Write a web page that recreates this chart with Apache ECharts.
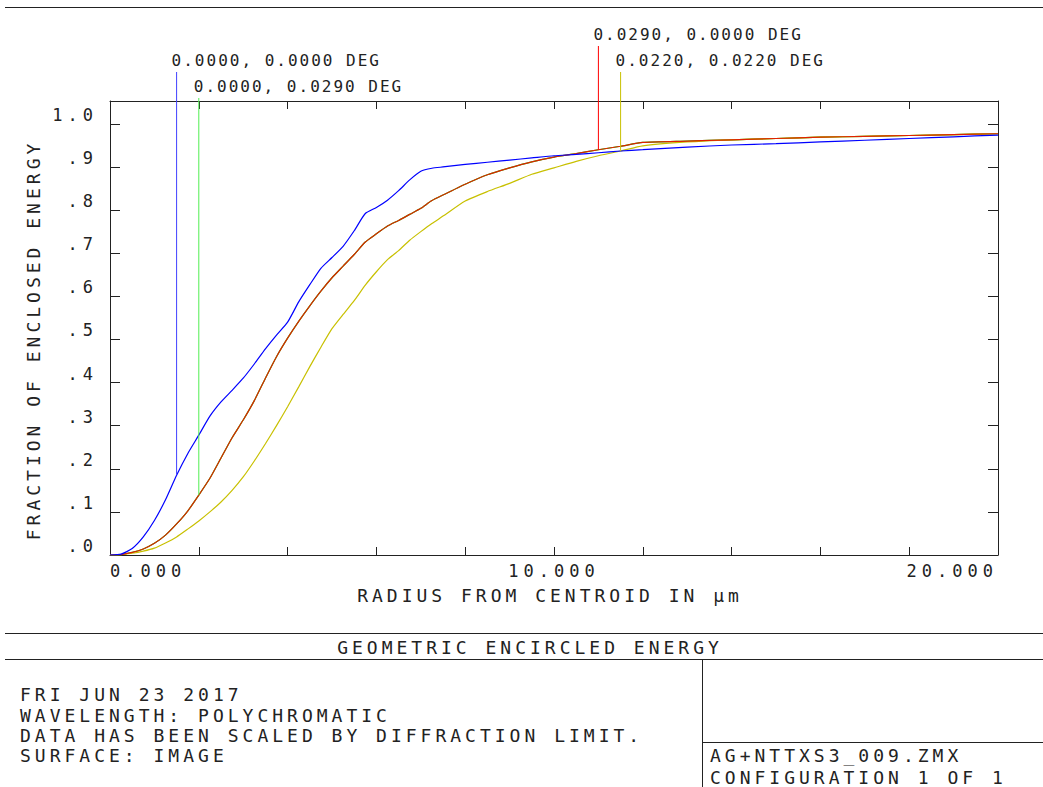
<!DOCTYPE html>
<html>
<head>
<meta charset="utf-8">
<title>Geometric Encircled Energy</title>
<script src="https://cdn.jsdelivr.net/npm/echarts@6.0.0/dist/echarts.min.js"></script>
<style>
  html, body { margin: 0; padding: 0; background: #fff; }
  #chart { width: 1043px; height: 787px; }
  /* the plot font is spread wide, svg text takes css letter-spacing */
  #chart text[style*="16px"] { letter-spacing: 2px; }
  #chart text[style*="17px"] { letter-spacing: 5px; }
  #chart text[style*="18px"] { letter-spacing: 4px; }
</style>
</head>
<body>
<div id="chart"></div>
<script>
// radius from centroid, micrometres
var radius = [0, 0.25, 0.5, 0.75, 1.0, 1.25, 1.5, 1.75, 2.0, 2.25, 2.5, 2.75, 3.0, 3.25, 3.5, 3.75,
  4.0, 4.25, 4.5, 4.75, 5.0, 5.25, 5.5, 5.75, 6.0, 6.25, 6.5, 6.75, 7.0, 7.25, 7.5, 8, 8.5, 9, 9.5,
  10, 10.5, 11, 11.5, 12, 13, 14, 15, 16, 17, 18, 19, 20];

// fraction of enclosed energy, one list per field
var blue = [0, 0.002, 0.015, 0.042, 0.08, 0.128, 0.185, 0.235, 0.278, 0.322, 0.355, 0.382, 0.41, 0.443, 0.478, 0.51,
  0.54, 0.587, 0.627, 0.665, 0.69, 0.716, 0.752, 0.792, 0.806, 0.823, 0.845, 0.87, 0.89, 0.897, 0.9, 0.906, 0.911, 0.916, 0.921,
  0.926, 0.929, 0.933, 0.937, 0.94, 0.946, 0.951, 0.954, 0.958, 0.962, 0.966, 0.97, 0.974];
var green = [0, 0.001, 0.006, 0.014, 0.027, 0.046, 0.072, 0.102, 0.139, 0.178, 0.225, 0.272, 0.313, 0.358, 0.41, 0.46,
  0.503, 0.542, 0.578, 0.612, 0.643, 0.67, 0.697, 0.726, 0.745, 0.763, 0.776, 0.79, 0.804, 0.822, 0.835, 0.86, 0.882, 0.898, 0.912,
  0.923, 0.931, 0.94, 0.948, 0.957, 0.96, 0.963, 0.966, 0.969, 0.971, 0.973, 0.975, 0.977];
var red = [0, 0.001, 0.006, 0.014, 0.027, 0.046, 0.072, 0.102, 0.139, 0.178, 0.225, 0.272, 0.313, 0.358, 0.41, 0.46,
  0.503, 0.542, 0.578, 0.612, 0.643, 0.67, 0.697, 0.726, 0.745, 0.763, 0.776, 0.79, 0.804, 0.822, 0.835, 0.86, 0.882, 0.898, 0.912,
  0.923, 0.931, 0.94, 0.948, 0.957, 0.96, 0.963, 0.966, 0.969, 0.971, 0.973, 0.975, 0.977];
var yellow = [0, 0.001, 0.004, 0.009, 0.016, 0.028, 0.042, 0.06, 0.079, 0.1, 0.123, 0.15, 0.181, 0.218, 0.258, 0.3,
  0.344, 0.39, 0.437, 0.482, 0.525, 0.558, 0.59, 0.626, 0.657, 0.685, 0.706, 0.73, 0.75, 0.769, 0.786, 0.821, 0.843, 0.862, 0.883,
  0.898, 0.913, 0.926, 0.937, 0.949, 0.958, 0.963, 0.966, 0.969, 0.971, 0.973, 0.975, 0.977];

var fieldNames = ['0.0000, 0.0000 DEG', '0.0000, 0.0290 DEG', '0.0290, 0.0000 DEG', '0.0220, 0.0220 DEG'];
// radius where each field's flag line meets its curve
var markerRadius = [1.5, 2.0, 11.0, 11.5];

var xTickLabels = ['0.000', '10.000', '20.000'];
var yTickLabels = ['.0', '.1', '.2', '.3', '.4', '.5', '.6', '.7', '.8', '.9', '1.0'];

var footerLeft = ['FRI JUN 23 2017', 'WAVELENGTH: POLYCHROMATIC', 'DATA HAS BEEN SCALED BY DIFFRACTION LIMIT.', 'SURFACE: IMAGE'];
var footerRight = ['AG+NTTXS3_009.ZMX', 'CONFIGURATION 1 OF 1'];

var FONT = 'DejaVu Sans Mono';
var INK = '#222';

var curves = [blue, green, red, yellow];
var curveColors = ['#0000ff', '#00dd00', '#e02000', '#c8c000'];
var flagColors = ['#4040ff', '#50ee50', '#ff0000', '#c8c000'];
var labelRow = [1, 2, 0, 1];
var rowY = [34, 60, 86];

var valueAt = function(values, r) {
  for (var i = 1; i < radius.length; i++) {
    if (radius[i] >= r) {
      var t = (r - radius[i - 1]) / (radius[i] - radius[i - 1]);
      return values[i - 1] + t * (values[i] - values[i - 1]);
    }
  }
  return values[values.length - 1];
}

var lineSeries = function(name, values, color, z) {
  return {
    name: name,
    type: 'line',
    data: radius.map(function(r, i) { return [r, values[i]]; }),
    showSymbol: false,
    smooth: 0.2,
    lineStyle: {color: color, width: 1.2},
    itemStyle: {color: color},
    z: z
  }
}

// ticks point into the plot box on all four sides
var tickStyle = function(len) {
  return {show: true, inside: true, length: len, lineStyle: {color: INK}};
}

var init = function() {
  var chart = echarts.init(document.getElementById('chart'), null, {renderer: 'svg'});

  var flagData = markerRadius.map(function(r, i) {
    return [r, valueAt(curves[i], r), i];
  });

  // onZero off, or the top/right axes get pulled onto the zero lines
  var axisLine = {show: true, onZero: false, lineStyle: {color: INK, width: 1}};

  var graphics = [
    {type: 'line', shape: {x1: 5, y1: 7.5, x2: 1043, y2: 7.5}, style: {stroke: INK, lineWidth: 1}},
    {type: 'line', shape: {x1: 5, y1: 633.5, x2: 1043, y2: 633.5}, style: {stroke: INK, lineWidth: 1}},
    {type: 'line', shape: {x1: 5, y1: 659.5, x2: 1043, y2: 659.5}, style: {stroke: INK, lineWidth: 1}},
    {type: 'line', shape: {x1: 702.5, y1: 659.5, x2: 702.5, y2: 787}, style: {stroke: INK, lineWidth: 1}},
    {type: 'line', shape: {x1: 702.5, y1: 742.5, x2: 1043, y2: 742.5}, style: {stroke: INK, lineWidth: 1}},
    {type: 'text', x: 530, y: 647, style: {text: 'GEOMETRIC ENCIRCLED ENERGY', fill: INK, fontSize: 18, fontFamily: FONT, align: 'center', verticalAlign: 'middle'}},
    {type: 'text', x: 550, y: 595, style: {text: 'RADIUS FROM CENTROID IN µm', fill: INK, fontSize: 18, fontFamily: FONT, align: 'center', verticalAlign: 'middle'}},
    {type: 'text', x: 33, y: 340, rotation: Math.PI / 2, style: {text: 'FRACTION OF ENCLOSED ENERGY', fill: INK, fontSize: 18, fontFamily: FONT, align: 'center', verticalAlign: 'middle'}}
  ];
  var leftY = [694, 715, 735, 755];
  footerLeft.forEach(function(t, i) {
    graphics.push({type: 'text', x: 20, y: leftY[i], style: {text: t, fill: INK, fontSize: 18, fontFamily: FONT, verticalAlign: 'middle'}});
  });
  var rightY = [755, 777];
  footerRight.forEach(function(t, i) {
    graphics.push({type: 'text', x: 710, y: rightY[i], style: {text: t, fill: INK, fontSize: 18, fontFamily: FONT, verticalAlign: 'middle'}});
  });

  var option = {
    animation: false,
    backgroundColor: '#fff',
    grid: {left: 110, top: 101, right: 45, bottom: 232, containLabel: false, outerBoundsMode: 'none'},
    xAxis: [
      {
        type: 'value', min: 0, max: 20, interval: 2, position: 'bottom',
        axisLine: axisLine, axisTick: tickStyle(8), splitLine: {show: false},
        axisLabel: {
          show: true, color: INK, fontSize: 17, fontFamily: FONT, margin: 7,
          alignMinLabel: 'left', alignMaxLabel: 'right',
          formatter: function(v) {
            return (v % 10 === 0) ? xTickLabels[v / 10] : '';
          }
        }
      },
      {
        type: 'value', min: 0, max: 20, interval: 2, position: 'top',
        axisLine: axisLine, axisTick: tickStyle(8), splitLine: {show: false},
        axisLabel: {show: false}
      }
    ],
    yAxis: [
      {
        type: 'value', min: 0, max: 1.053, interval: 0.1, position: 'left',
        axisLine: axisLine, axisTick: tickStyle(10), splitLine: {show: false},
        axisLabel: {
          show: true, color: INK, fontSize: 17, fontFamily: FONT, margin: 12,
          verticalAlign: 'bottom', lineHeight: 18,
          formatter: function(v) {
            var k = Math.round(v * 10);
            if (Math.abs(v * 10 - k) > 1e-6) return '';
            return yTickLabels[k] || '';
          }
        }
      },
      {
        type: 'value', min: 0, max: 1.053, interval: 0.1, position: 'right',
        axisLine: axisLine, axisTick: tickStyle(10), splitLine: {show: false},
        axisLabel: {show: false}
      }
    ],
    graphic: {elements: graphics},
    series: [
      lineSeries('0.0000, 0.0290 DEG', green, curveColors[1], 2),
      lineSeries('0.0220, 0.0220 DEG', yellow, curveColors[3], 3),
      lineSeries('0.0290, 0.0000 DEG', red, curveColors[2], 4),
      lineSeries('0.0000, 0.0000 DEG', blue, curveColors[0], 5),
      {
        type: 'custom',
        name: 'field flags',
        clip: false,
        silent: true,
        z: 6,
        encode: {x: 0, y: 1},
        data: flagData,
        renderItem: function(params, api) {
          var i = api.value(2);
          var p = api.coord([api.value(0), api.value(1)]);
          var ty = rowY[labelRow[i]];
          return {
            type: 'group',
            children: [
              {type: 'line', shape: {x1: p[0], y1: ty + 12, x2: p[0], y2: p[1]}, style: {stroke: flagColors[i], lineWidth: 1}},
              {type: 'text', x: p[0] - 5, y: ty, style: {text: fieldNames[i], fill: INK, fontSize: 16, fontFamily: FONT, verticalAlign: 'middle'}}
            ]
          };
        }
      }
    ]
  };
  chart.setOption(option);
}

init();
</script>
</body>
</html>
